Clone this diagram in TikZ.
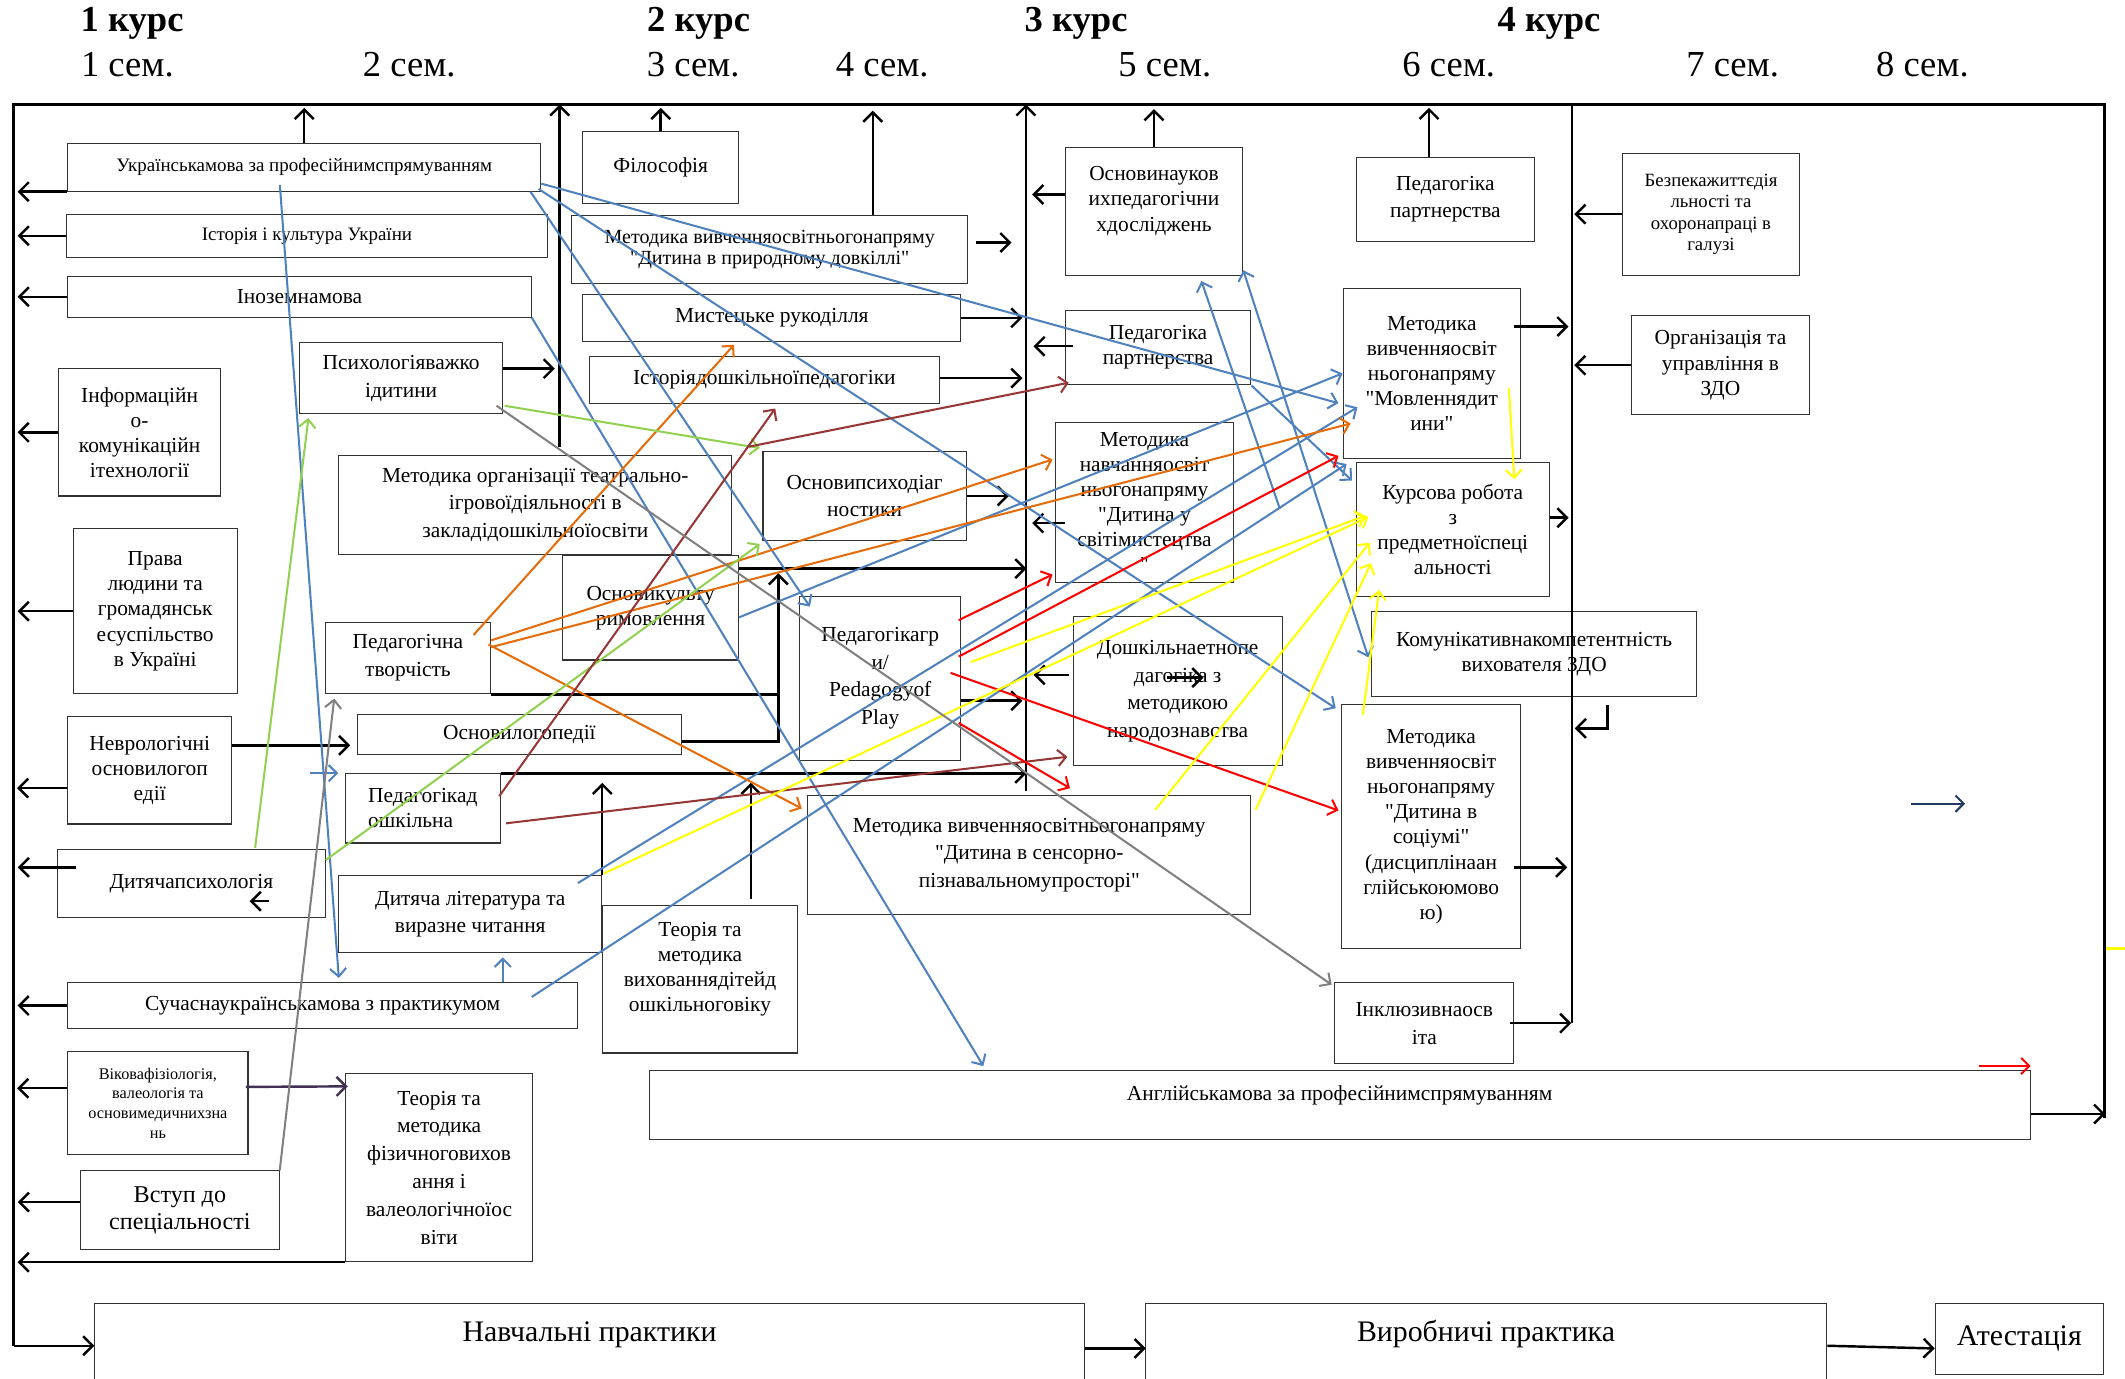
\documentclass[tikz,border=0pt]{standalone}
\usepackage{fontspec}
\setmainfont{Liberation Serif}
\newfontfamily\boxfont{Liberation Serif}
\usetikzlibrary{arrows.meta}
\definecolor{cblue}{RGB}{79,129,189}
\definecolor{corange}{RGB}{228,108,10}
\definecolor{cgreen}{RGB}{146,208,80}
\definecolor{cbrown}{RGB}{149,55,53}
\definecolor{cgray}{RGB}{128,128,128}
\definecolor{cpurple}{RGB}{64,49,82}
\definecolor{cnavy}{RGB}{31,56,100}
\definecolor{cyellow}{RGB}{255,255,0}

\begin{document}
\begin{tikzpicture}[x=1pt, y=-1pt,
    box/.style={draw=black!80, line width=0.8pt, align=center, inner sep=1pt, font=\boxfont\fontsize{15.8pt}{18.5pt}\selectfont},
    widebox/.style={font=\boxfont\fontsize{15.8pt}{20.5pt}\selectfont},
    thinbox/.style={font=\boxfont\fontsize{14pt}{18pt}\selectfont},
    smallbox/.style={font=\boxfont\fontsize{12pt}{14.5pt}\selectfont},
    bigbox/.style={font=\boxfont\fontsize{22pt}{26pt}\selectfont},
    heading/.style={font=\fontsize{27pt}{30pt}\selectfont},
    wh/.style 2 args={minimum width=#1pt, minimum height=#2pt},
    arr/.style={arrows={-Straight Barb[length=7pt,width=14pt]}, line width=1.8pt},
    ln/.style={line width=1.8pt},
    carr/.style={arrows={-Straight Barb[length=6pt,width=12pt]}, line width=1.5pt},
    carrb/.style={arrows={Straight Barb[length=6pt,width=12pt]-Straight Barb[length=6pt,width=12pt]}, line width=1.5pt}]
  \useasboundingbox (0,0) rectangle (1568,1017);

  % years and semesters
  \node[heading] (c1) at (97.5,17) {\bfseries 1 курс};
  \node[heading] (c2) at (515.5,17) {\bfseries 2 курс};
  \node[heading] (c3) at (794,17) {\bfseries 3 курс};
  \node[heading] (c4) at (1143,17) {\bfseries 4 курс};
  \node[heading] (s1) at (94,48) {1 сем.};
  \node[heading] (s2) at (302,48) {2 сем.};
  \node[heading] (s3) at (511.5,48) {3 сем.};
  \node[heading] (s4) at (651,48) {4 сем.};
  \node[heading] (s5) at (859.5,48) {5 сем.};
  \node[heading] (s6) at (1069,48) {6 сем.};
  \node[heading] (s7) at (1278.5,48) {7 сем.};
  \node[heading] (s8) at (1418.5,48) {8 сем.};

  % frame
  \coordinate (tl) at (10,77);
  \coordinate (tr) at (1553,77);
  \coordinate (bl) at (10,993);
  \coordinate (br) at (1553,825);
  \coordinate (fl) at (13,0);
  \coordinate (v1) at (413,330);
  \coordinate (v2) at (757,584);
  \coordinate (v3) at (1160,755);

  % disciplines
  \node[box, thinbox, wh={349}{35}] (ukr) at (224.5,123.5) {Українськамова за професійнимспрямуванням};
  \node[box, thinbox, wh={355}{32}] (hist) at (226.5,174) {Історія і культура України};
  \node[box, wh={342}{30}] (inoz) at (221,219) {Іноземнамова};
  \node[box, widebox, wh={150}{52}] (psych) at (296,279) {Психологіяважко\\ідитини};
  \node[box, wh={120}{94}] (info) at (103,319) {Інформаційн\\о-\\комунікаційн\\ітехнології};
  \node[box, widebox, wh={290}{73}] (teatr) at (395,372.5) {Методика організації театрально-\\ігровоїдіяльності в\\закладідошкільноїосвіти};
  \node[box, wh={121}{122}] (prava) at (114.5,451) {Права\\людини та\\громадянськ\\есуспільство\\в Україні};
  \node[box, wh={115}{53}] (filos) at (487.5,123.5) {Філософія};
  \node[box, wh={292}{50}, font=\boxfont\fontsize{14.8pt}{15.5pt}\selectfont] (mprir) at (568,184) {Методика вивченняосвітньогонапряму\\"Дитина в природному довкіллі"};
  \node[box, wh={279}{35}] (myst) at (569.5,234.5) {Мистецьке рукоділля};
  \node[box, wh={258}{35}] (istdp) at (564,280.5) {Історіядошкільноїпедагогіки};
  \node[box, widebox, wh={150}{66}] (psdiag) at (638,366) {Основипсиходіаг\\ностики};
  \node[box, wh={130}{77}] (kult) at (480,448.5) {Основикульту\\римовлення};
  \node[box, widebox, wh={119}{121}] (pedgr) at (649.5,500.5) {Педагогікагр\\и/\\Pedagogyof\\Play};
  \node[box, wh={239.5}{30}] (oskr) at (383.25,542) {Основилогопедії};
  \node[box, widebox, wh={122}{53}] (pedtv) at (301,485.5) {Педагогічна\\творчість};
  \node[box, wh={121}{79}] (nevr) at (110.5,568.5) {Неврологічні\\основилогоп\\едії};
  \node[box, align=left, wh={114}{51}] (pdosh) at (312,596.5) {Педагогікад\\ошкільна};
  \node[box, wh={197.5}{50}] (dpsych) at (141.25,652) {Дитячапсихологія};
  \node[box, widebox, wh={194}{57}] (dlit) at (347,674.5) {Дитяча література та\\виразне читання};
  \node[box, wh={376}{34}] (sucukr) at (238,742) {Сучаснаукраїнськамова з практикумом};
  \node[box, smallbox, wh={133}{76}] (vikfiz) at (116.5,814) {Віковафізіологія,\\валеологія та\\основимедичнихзна\\нь};
  \node[box, widebox, wh={138}{139}] (tmfiz) at (324,861.5) {Теорія та\\методика\\фізичноговихов\\ання і\\валеологічноїос\\віти};
  \node[box, wh={146.5}{58}, font=\boxfont\fontsize{17.8pt}{20pt}\selectfont] (vstup) at (132.75,893) {Вступ до\\спеціальності};
  \node[box, wh={144}{109}] (tmvyh) at (516.5,722.5) {Теорія та\\методика\\вихованнядітейд\\ошкільноговіку\\\mbox{}};
  \node[box, widebox, wh={327}{88}] (sensor) at (759.5,631) {Методика вивченняосвітньогонапряму\\"Дитина в сенсорно-\\пізнавальномупросторі"};
  \node[box, widebox, wh={154}{110}] (doshe) at (869,510) {Дошкільнаетнопе\\дагогіка з\\методикою\\народознавства};
  \node[box, wh={131}{94}] (osnn) at (851.5,156) {Основинауков\\ихпедагогічни\\хдосліджень\\\mbox{}};
  \node[box, wh={137}{55}] (pedp1) at (854.5,256.5) {Педагогіка\\партнерства};
  \node[box, wh={131}{118}] (mmyst) at (844.5,370.5) {Методика\\навчанняосвіт\\ньогонапряму\\"Дитина у\\світімистецтва\\"};
  \node[box, widebox, wh={131}{62}] (pedp2) at (1066.5,147) {Педагогіка\\партнерства};
  \node[box, wh={131}{125}] (mmovl) at (1056.5,275.5) {Методика\\вивченняосвіт\\ньогонапряму\\"Мовленнядит\\ини"};
  \node[box, wh={142}{99}] (kurs) at (1072,390.5) {Курсова робота\\з\\предметноїспеці\\альності};
  \node[box, wh={240}{63}] (komun) at (1132,482.5) {Комунікативнакомпетентність\\вихователя ЗДО};
  \node[box, wh={132}{180}] (msoc) at (1056,610) {Методика\\вивченняосвіт\\ньогонапряму\\"Дитина в\\соціумі"\\(дисциплінаан\\глійськоюмово\\ю)};
  \node[box, widebox, wh={132}{60}] (inkl) at (1051,755) {Інклюзивнаосв\\іта};
  \node[box, smallbox, font=\boxfont\fontsize{13.8pt}{15.8pt}\selectfont, wh={131}{90}] (bezp) at (1262.5,158) {Безпекажиттєдія\\льності та\\охоронапраці в\\галузі};
  \node[box, wh={131}{73}] (orgz) at (1269.5,269.5) {Організація та\\управління в\\ЗДО};
  \node[box, wh={1019}{51}, label={[box, draw=none, anchor=north, yshift=-10pt]north:Англійськамова за професійнимспрямуванням}] (angl) at (988.5,815.5) {};

  % practices
  \node[box, wh={730}{100}, label={[box, bigbox, draw=none, anchor=north, yshift=-12pt]north:Навчальні практики}] (navch) at (435,1012) {};
  \node[box, wh={503}{100}, label={[box, bigbox, draw=none, anchor=north, yshift=-11pt]north:Виробничі практика}] (vyrob) at (1096.5,1012) {};
  \node[box, bigbox, wh={124}{52}] (atest) at (1490,988) {Атестація};

  % frame lines
  \draw[ln] (br) -- (tr) -- (tl) -- (bl);
  \draw[arr] (bl) -- (navch.west |- bl);
  \draw[arr] (v1) -- (v1 |- tl);
  \draw[arr] (v2) -- (v2 |- tl);
  \draw[ln] (v3) -- (v3 |- tl);

  % black arrows
  \draw[arr] (ukr.north) -- ++(0,-26);
  \draw[arr] (filos.north) -- ++(0,-17);
  \draw[arr] ([shift={(76,0)}]mprir.north) -- ++(0,-77);
  \draw[arr] (osnn.north) -- ++(0,-28);
  \draw[arr] ([shift={(-12,0)}]pedp2.north) -- ++(0,-36);
  \draw[arr] (ukr.south west) -- (ukr.south west -| fl);
  \draw[arr] (hist.west) -- (hist.west -| fl);
  \draw[arr] (inoz.west) -- (inoz.west -| fl);
  \draw[arr] (info.west) -- (info.west -| fl);
  \draw[arr] (prava.west) -- (prava.west -| fl);
  \draw[arr] ([shift={(0,13)}]nevr.west) -- ++(-37,0);
  \draw[arr] ([shift={(14,-12)}]dpsych.west) -- ++(-43,0);
  \draw[arr] (sucukr.west) -- (sucukr.west -| fl);
  \draw[arr] ([shift={(0,-11)}]vikfiz.west) -- ++(-37,0);
  \draw[arr] ([shift={(0,-6)}]vstup.west) -- ++(-46,0);
  \draw[arr] (tmfiz.south west) -- (tmfiz.south west -| fl);
  \draw[arr] ([shift={(0,-7)}]psych.east) -- ++(38,0);
  \draw[arr] ([shift={(6,-5)}]mprir.east) -- ++(26,0);
  \draw[arr] (myst.east) -- ++(45,0);
  \draw[arr] ([shift={(0,-1.5)}]istdp.east) -- ++(61,0);
  \draw[arr] (psdiag.east) -- ++(31,0);
  \draw[arr] ([shift={(0,10)}]kult.north east) -- ++(212,0);
  \draw[arr] ([shift={(0,16.5)}]pedgr.east) -- ++(45,0);
  \draw[arr] ([shift={(0,-18.5)}]nevr.east) -- ++(87,0);
  \draw[ln] (pedtv.south east) -- ++(212,0);
  \draw[arr] ([shift={(0,5)}]oskr.east) -- ++(71,0) -- ++(0,-124);
  \draw[arr] (pdosh.north east) -- ++(388,0);
  \draw[arr] (dlit.north east) -- ++(0,-68);
  \draw[arr] ([shift={(37.5,-4)}]tmvyh.north) -- ++(0,-86);
  \draw[arr] ([shift={(-5,-34.5)}]mmovl.east) -- ++(40,0);
  \draw[arr] ([shift={(0,-8.5)}]kurs.east) -- ++(14,0);
  \draw[arr] ([shift={(-5,30)}]msoc.east) -- ++(39,0);
  \draw[arr] ([shift={(-3,0)}]inkl.east) -- ++(45,0);
  \draw[arr] (bezp.west) -- ++(-35,0);
  \draw[arr] (orgz.west) -- ++(-42,0);
  \draw[arr] ([shift={(54,6)}]komun.south) -- ++(0,17) -- ++(-24,0);
  \draw[arr] ([shift={(0,-12.5)}]osnn.west) -- ++(-24,0);
  \draw[arr] ([shift={(6,-1)}]pedp1.west) -- ++(-29,0);
  \draw[arr] ([shift={(7,15.5)}]mmyst.west) -- ++(-24,0);
  \draw[arr] ([shift={(-3,-12)}]doshe.west) -- ++(-26,0);
  \draw[arr] ([shift={(-8,-10)}]doshe.center) -- ++(27,0);
  \draw[arr] ([shift={(57,13)}]dpsych.center) -- ++(-14,0);
  \draw[arr] ([shift={(0,6.5)}]angl.east) -- ++(55,0);
  \draw[arr] ([shift={(0,-17)}]navch.east) -- ++(45,0);
  \draw[arr] ([shift={(0,-19)}]vyrob.east) -- ([shift={(0,7)}]atest.west);
  \draw[arr, cpurple] ([shift={(-2,-12)}]vikfiz.east) -- ([shift={(2,10)}]tmfiz.north west);
  \coordinate (nv) at (1410,593);
  \draw[carr, cnavy] (nv) -- ++(40,0);
  \draw[carr, red] ([shift={(-38,-3)}]angl.north east) -- ++(38,0);
  \coordinate (yd) at (1554,700);
  \draw[ln, cyellow] (yd) -- ++(14,0);

  % blue links
  \draw[carr, cblue] ([shift={(-18,-5)}]ukr.south) -- ([shift={(12,-3)}]sucukr.north);
  \draw[carr, cblue] ([shift={(0,12)}]ukr.east) -- ([shift={(-3,22)}]mmovl.west);
  \draw[carr, cblue] ([shift={(-2,-2)}]ukr.south east) -- ([shift={(-4,3)}]msoc.north west);
  \draw[carr, cblue] ([shift={(-8,0)}]ukr.south east) -- ([shift={(8,8)}]pedgr.north west);
  \draw[carr, cblue] (inoz.south east) -- ([shift={(247,-3)}]angl.north west);
  \draw[carr, cblue] ([shift={(0,7)}]kult.east) -- (mmovl.west);
  \draw[carr, cblue] ([shift={(-18,6)}]dlit.north east) -- ([shift={(11,25)}]mmovl.west);
  \draw[carr, cblue] ([shift={(-34,11)}]sucukr.north east) -- ([shift={(3,4)}]mmovl.south west);
  \draw[carr, cblue] ([shift={(34,5)}]mmyst.east) -- ([shift={(35,4)}]osnn.south);
  \draw[carrb, cblue] ([shift={(-2,2.5)}]komun.west) -- ([shift={(0,-4)}]osnn.south east);
  \draw[carr, cblue] (pedp1.south east) -- ([shift={(-3,14)}]kurs.north west);
  \draw[carr, cblue] ([shift={(133,0)}]sucukr.north) -- ([shift={(24,3)}]dlit.south);
  \draw[carr, cblue] ([shift={(-26,-26)}]pdosh.west) -- ([shift={(-5,-26)}]pdosh.west);

  % orange links
  \draw[carr, corange] ([shift={(-13,10)}]pedtv.north east) -- ([shift={(112,2)}]myst.south west);
  \draw[carr, corange] ([shift={(0,-13)}]pedtv.east) -- ([shift={(-2,28)}]mmyst.north west);
  \draw[carr, corange] ([shift={(0,-8)}]pedtv.east) -- ([shift={(6,37)}]mmovl.west);
  \draw[carr, corange] ([shift={(-2,-10)}]pedtv.east) -- ([shift={(-4,10)}]sensor.north west);

  % green links
  \draw[carr, cgreen] ([shift={(47,-1)}]dpsych.north) -- ([shift={(7,3)}]psych.south west);
  \draw[carr, cgreen] ([shift={(1,-6)}]psych.south east) -- ([shift={(-2,-2)}]psdiag.north west);
  \draw[carr, cgreen] ([shift={(0,8)}]dpsych.north east) -- ([shift={(-2,2)}]psdiag.south west);

  % brown links
  \draw[carr, cbrown] ([shift={(-1,-9)}]pdosh.east) -- ([shift={(8,3)}]istdp.south);
  \draw[carr, cbrown] ([shift={(-10,-3)}]psdiag.north west) -- ([shift={(3,-2)}]pedp1.south west);
  \draw[carr, cbrown] ([shift={(4,11)}]pdosh.east) -- ([shift={(-4,-7)}]doshe.south west);

  % red links
  \draw[carr, red] ([shift={(-2,18)}]pedgr.north east) -- ([shift={(-2,-6)}]mmyst.south west);
  \draw[carr, red] ([shift={(-2,-16)}]pedgr.east) -- ([shift={(-3,-2)}]mmovl.south west);
  \draw[carr, red] ([shift={(-8,-4)}]pedgr.east) -- ([shift={(-2,-12)}]msoc.west);
  \draw[carr, red] ([shift={(-2,33)}]pedgr.east) -- ([shift={(30,-5)}]sensor.north);

  % yellow links
  \draw[carr, cyellow] ([shift={(7,-12)}]pedgr.east) -- ([shift={(7,-10)}]kurs.west);
  \draw[carr, cyellow] ([shift={(1,-1)}]dlit.north east) -- ([shift={(9,-9)}]kurs.west);
  \draw[carr, cyellow] ([shift={(-71,11)}]sensor.north east) -- ([shift={(10,10)}]kurs.west);
  \draw[carr, cyellow] ([shift={(3,11)}]sensor.north east) -- ([shift={(11,25)}]kurs.west);
  \draw[carr, cyellow] ([shift={(16,8)}]msoc.north west) -- ([shift={(17,-5)}]kurs.south west);
  \draw[carr, cyellow] ([shift={(-9,11)}]mmovl.east) -- ([shift={(-26,13)}]kurs.north east);

  % gray links
  \draw[carr, cgray] ([shift={(-5,-6)}]psych.south east) -- ([shift={(-2,2)}]inkl.north west);
  \draw[carr, cgray] (vstup.north east) -- ([shift={(7,3)}]pedtv.south west);
\end{tikzpicture}
\end{document}
